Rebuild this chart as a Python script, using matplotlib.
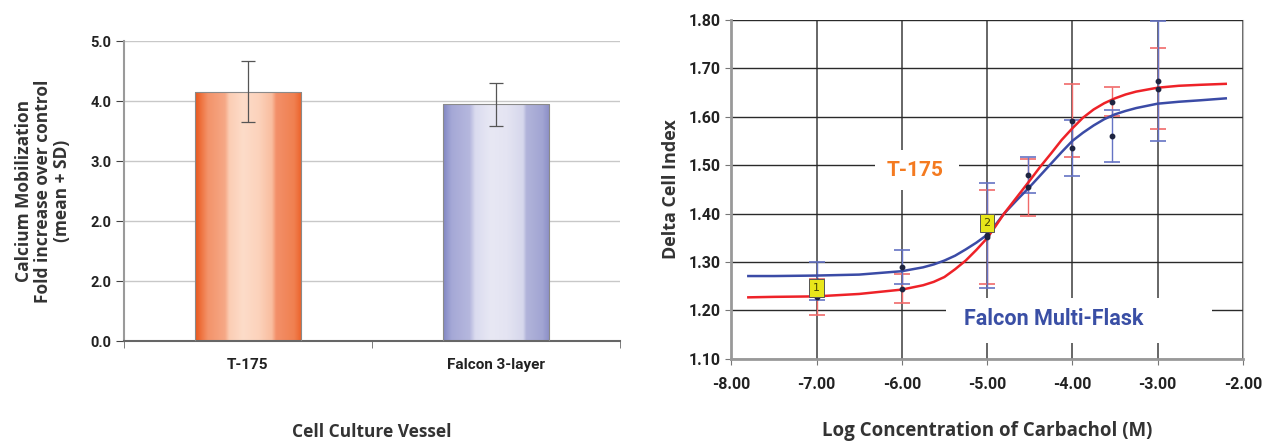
import numpy as np
import matplotlib.pyplot as plt
from matplotlib.colors import LinearSegmentedColormap
from matplotlib.patches import Rectangle

# ---- left chart data ----
vessels = ['T-175', 'Falcon 3-layer']
fold_mean = [4.16, 3.95]
fold_sd = [0.51, 0.36]
fold_ticks = [0.0, 1.0, 2.0, 3.0, 4.0, 5.0]
fold_tick_labels = ['0.0', '2.0', '2.0', '3.0', '4.0', '5.0']  # as printed in the source

# ---- right chart data ----
curve_x = [-7.8, -7.5, -7.0, -6.5, -6.0, -5.75, -5.625, -5.5, -5.375, -5.25, -5.125,
           -5.0, -4.9, -4.8, -4.65, -4.5, -4.375, -4.25, -4.125, -4.0, -3.875,
           -3.75, -3.625, -3.5, -3.375, -3.25, -3.0, -2.75, -2.5, -2.2]
curve_t175 = [1.227, 1.228, 1.229, 1.234, 1.243, 1.252, 1.259, 1.269, 1.285, 1.303, 1.325,
              1.349, 1.374, 1.400, 1.434, 1.468, 1.497, 1.524, 1.552, 1.576, 1.598,
              1.615, 1.628, 1.638, 1.646, 1.652, 1.660, 1.664, 1.666, 1.668]
curve_falcon = [1.271, 1.271, 1.272, 1.274, 1.281, 1.289, 1.295, 1.303, 1.313, 1.326, 1.340,
                1.356, 1.377, 1.400, 1.428, 1.455, 1.479, 1.503, 1.527, 1.550, 1.567,
                1.582, 1.595, 1.605, 1.612, 1.618, 1.627, 1.631, 1.634, 1.638]

dose_x = [-7.0, -6.0, -5.0, -4.52, -4.0, -3.53, -3.0]
t175_mean = [1.228, 1.245, 1.352, 1.454, 1.592, 1.631, 1.658]
t175_err = [0.037, 0.030, 0.097, 0.058, 0.075, 0.030, 0.084]
falcon_mean = [1.261, 1.290, 1.355, 1.479, 1.535, 1.560, 1.673]
falcon_err = [0.040, 0.035, 0.108, 0.037, 0.058, 0.054, 0.124]

flag_labels = ['1', '2']
flag_x = [-7.0, -5.0]
flag_y = [1.247, 1.380]

x_ticks = [-8, -7, -6, -5, -4, -3, -2]
y_ticks = [1.1, 1.2, 1.3, 1.4, 1.5, 1.6, 1.7, 1.8]

NARROW = ['Roboto', 'DejaVu Sans']
LABEL = ['Open Sans', 'DejaVu Sans']

orange_map = LinearSegmentedColormap.from_list('o', [
    (0.0, '#e9561c'), (0.07, '#f07a48'), (0.12, '#f3936a'), (0.28, '#f6a886'),
    (0.32, '#fbcdb4'), (0.45, '#fddcc9'), (0.6, '#fcd2bb'), (0.72, '#f9bd9f'),
    (0.76, '#f3906a'), (0.93, '#f08050'), (1.0, '#ec6028')])
blue_map = LinearSegmentedColormap.from_list('b', [
    (0.0, '#8186c4'), (0.08, '#a5a8d6'), (0.25, '#b6b8de'), (0.3, '#dadbef'),
    (0.45, '#e8e8f4'), (0.6, '#e4e4f2'), (0.75, '#d6d7ec'), (0.78, '#b2b4da'),
    (0.93, '#a2a5d3'), (1.0, '#8a8dc6')])


def plot_bars(ax):
    pos = np.arange(len(vessels))
    bars = ax.bar(pos, fold_mean, width=0.43, color='none', edgecolor='#8a8a8a',
                  linewidth=0.8, zorder=3)
    grad = np.linspace(0, 1, 256).reshape(1, -1)
    for bar, cmap in zip(bars, [orange_map, blue_map]):
        x0, w, h = bar.get_x(), bar.get_width(), bar.get_height()
        im = ax.imshow(grad, cmap=cmap, aspect='auto', extent=(x0, x0 + w, 0, h),
                       zorder=2, interpolation='bilinear')
        im.set_clip_path(bar)
    ax.errorbar(pos, fold_mean, yerr=fold_sd, fmt='none', ecolor='#555555',
                elinewidth=0.9, capsize=5, capthick=0.9, zorder=4)

    ax.set_xlim(-0.5, 1.5)
    ax.set_ylim(0, 5.0)
    ax.set_yticks(fold_ticks)
    ax.set_yticklabels(fold_tick_labels, family=NARROW, fontweight='bold', fontsize=10.5)
    ax.set_xticks(pos)
    ax.set_xticklabels(vessels, family=NARROW, fontweight='bold', fontsize=11)
    ax.set_xticks([-0.5, 0.5, 1.5], minor=True)
    ax.tick_params(axis='x', which='major', length=0, pad=12, colors='#222222')
    ax.tick_params(axis='x', which='minor', length=5, direction='out', color='#666666')
    ax.tick_params(axis='y', length=6, direction='out', color='#444444', pad=3,
                   colors='#222222')
    ax.yaxis.grid(True, color='#c8c8c8', linewidth=1.0, zorder=0)
    ax.set_axisbelow(True)
    for side in ['top', 'right']:
        ax.spines[side].set_visible(False)
    ax.spines['left'].set_color('#9a9a9a')
    ax.spines['left'].set_linewidth(1.5)
    ax.spines['bottom'].set_color('#666666')
    ax.spines['bottom'].set_linewidth(1.5)

    ax.set_ylabel('Calcium Mobilization\nFold increase over control\n(mean + SD)',
                  family=LABEL, fontweight='bold', fontsize=12.5, color='#333333',
                  linespacing=1.05, labelpad=14)
    ax.set_xlabel('Cell Culture Vessel', family=LABEL, fontweight='bold',
                  fontsize=12.5, color='#333333', labelpad=37)


def plot_curves(ax):
    ax.plot(curve_x, curve_falcon, color='#3b4ba6', linewidth=1.8, zorder=5)
    ax.plot(curve_x, curve_t175, color='#ee2228', linewidth=1.8, zorder=5)
    ax.errorbar(dose_x, t175_mean, yerr=t175_err, fmt='none', ecolor='#f06a6a',
                elinewidth=1.0, capsize=6, capthick=1.2, zorder=4)
    ax.errorbar(dose_x, falcon_mean, yerr=falcon_err, fmt='none', ecolor='#6573c4',
                elinewidth=1.0, capsize=6, capthick=1.2, zorder=4)
    ax.plot(dose_x, t175_mean, 'o', color='#1e2440', markersize=3.2, zorder=6)
    ax.plot(dose_x, falcon_mean, 'o', color='#1e2440', markersize=3.2, zorder=6)
    for lab, fx, fy in zip(flag_labels, flag_x, flag_y):
        ax.text(fx, fy, lab, ha='center', va='center', fontsize=8, color='#444400',
                zorder=7, bbox=dict(boxstyle='square,pad=0.35', facecolor='#e8e61a',
                                    edgecolor='#555555', linewidth=0.7))

    ax.set_xlim(-8, -2)
    ax.set_ylim(1.1, 1.8)
    ax.set_xticks(x_ticks)
    ax.set_xticklabels(['%.2f' % v for v in x_ticks], family=NARROW,
                       fontweight='bold', fontsize=11.5)
    ax.set_yticks(y_ticks)
    ax.set_yticklabels(['%.2f' % v for v in y_ticks], family=NARROW,
                       fontweight='bold', fontsize=11.5)
    ax.tick_params(axis='both', length=4, direction='out', color='#777777',
                   colors='#222222')
    ax.tick_params(axis='x', pad=9)
    ax.yaxis.grid(True, color='#2a2a2a', linewidth=1.0, zorder=0)
    ax.xaxis.grid(True, color='#5a5a5a', linewidth=1.3, zorder=0)
    ax.set_axisbelow(True)
    ax.spines['top'].set_visible(False)
    ax.spines['right'].set_color('#bbbbbb')
    ax.spines['left'].set_color('#999999')
    ax.spines['left'].set_linewidth(2)
    ax.spines['bottom'].set_color('#999999')
    ax.spines['bottom'].set_linewidth(2)

    # white label panels that break the grid
    ax.add_patch(Rectangle((0.280, 0.499), 0.165, 0.118, transform=ax.transAxes,
                           facecolor='white', edgecolor='none', zorder=1))
    ax.add_patch(Rectangle((0.419, 0.047), 0.521, 0.133, transform=ax.transAxes,
                           facecolor='white', edgecolor='none', zorder=1))
    ax.text(0.359, 0.555, 'T-175', transform=ax.transAxes, ha='center', va='center',
            family=NARROW, fontweight='bold', fontsize=15, color='#f47a20', zorder=2)
    ax.text(0.454, 0.118, 'Falcon Multi-Flask', transform=ax.transAxes, ha='left',
            va='center', family=NARROW, fontweight='bold', fontsize=15.5,
            color='#3a4fa5', zorder=2)

    ax.set_ylabel('Delta Cell Index', family=LABEL, fontweight='bold', fontsize=13,
                  color='#333333', labelpad=6)
    ax.set_xlabel('Log Concentration of Carbachol (M)', family=LABEL,
                  fontweight='bold', fontsize=13.5, color='#333333', labelpad=21)


if __name__ == '__main__':
    fig = plt.figure(figsize=(12.63, 4.43), dpi=100)
    ax1 = fig.add_axes([0.098, 0.230, 0.393, 0.677])
    ax2 = fig.add_axes([0.579, 0.190, 0.405, 0.765])
    plot_bars(ax1)
    plot_curves(ax2)
    fig.savefig('out.png', dpi=100, facecolor='white')
